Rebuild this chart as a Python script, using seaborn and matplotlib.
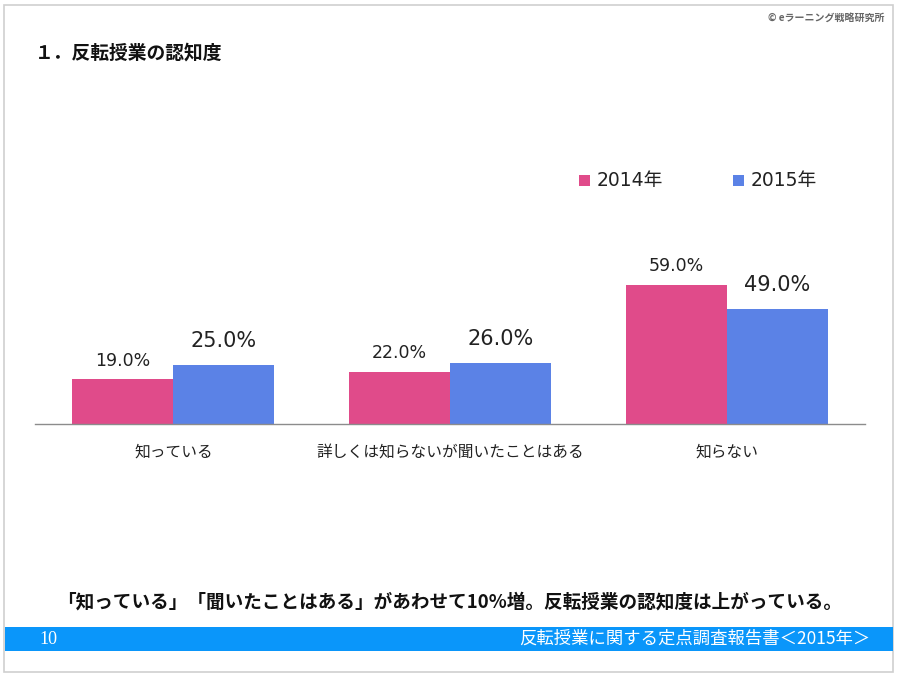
import matplotlib
matplotlib.use("Agg")
import matplotlib.pyplot as plt
from matplotlib.patches import Rectangle
import seaborn as sns
import pandas as pd

categories = ["知っている", "詳しくは知らないが聞いたことはある", "知らない"]
years = ["2014年", "2015年"]
values_2014 = [19.0, 22.0, 59.0]
values_2015 = [25.0, 26.0, 49.0]
colors = ["#E04B8A", "#5B82E6"]

df = pd.DataFrame({
    "category": categories * 2,
    "year": [years[0]] * 3 + [years[1]] * 3,
    "value": values_2014 + values_2015,
})

sns.set_theme(style="white")
plt.rcParams["font.family"] = ["Noto Sans CJK JP", "DejaVu Sans"]
LATIN = ["DejaVu Sans", "Noto Sans CJK JP"]

W, H = 900, 678
fig = plt.figure(figsize=(9, 6.78), dpi=100)
fig.patch.set_facecolor("white")

# slide border
fig.patches.append(Rectangle((4 / W, 1 - 672 / H), 889 / W, 667 / H, transform=fig.transFigure,
                             fill=False, edgecolor="#CFCFCF", linewidth=1.2))
# footer band
fig.patches.append(Rectangle((5 / W, 1 - 651 / H), 888 / W, 24 / H, transform=fig.transFigure,
                             facecolor="#0A96FA", edgecolor="none"))

ymax = 70
ax = fig.add_axes([35 / W, 1 - 424 / H, 830 / W, (ymax * 2.355) / H])
sns.barplot(data=df, x="category", y="value", hue="year", palette=colors,
            width=0.73, ax=ax, saturation=1, legend=False, linewidth=0)
ax.set_ylim(0, ymax)
ax.set_xlim(-0.5, 2.5)
ax.set_xlabel("")
ax.set_ylabel("")
ax.set_yticks([])
for s in ["top", "right", "left"]:
    ax.spines[s].set_visible(False)
ax.spines["bottom"].set_color("#8C8C8C")
ax.spines["bottom"].set_linewidth(1.0)
ax.tick_params(axis="x", length=0, pad=14, labelsize=11.3, labelcolor="#222222")
ax.set_facecolor("none")

conts = ax.containers
ax.bar_label(conts[0], labels=[f"{v:.1f}%" for v in values_2014], padding=7,
             fontsize=12.5, color="#222222", family=LATIN)
ax.bar_label(conts[1], labels=[f"{v:.1f}%" for v in values_2015], padding=10,
             fontsize=15, color="#222222", family=LATIN)

# legend
for i, (lab, c) in enumerate(zip(years, colors)):
    x0 = [579, 733][i]
    fig.patches.append(Rectangle((x0 / W, 1 - 186 / H), 11 / W, 11 / H, transform=fig.transFigure,
                                 facecolor=c, edgecolor="none"))
    fig.text((x0 + 18) / W, 1 - 181 / H, lab, fontsize=13.5, color="#222222", va="center", ha="left",
             family=LATIN)

# texts
fig.text(35 / W, 1 - 53 / H, "１．反転授業の認知度", fontsize=13.5, fontweight="bold",
         color="#111111", va="center", ha="left")
fig.text(884 / W, 1 - 18 / H, "© eラーニング戦略研究所", fontsize=7.2, fontweight="bold",
         color="#666666", va="center", ha="right")
fig.text(450 / W, 1 - 602 / H, "「知っている」「聞いたことはある」があわせて10%増。反転授業の認知度は上がっている。",
         fontsize=13.4, fontweight="bold", color="#111111", va="center", ha="center")
fig.text(39 / W, 1 - 639 / H, "10", fontsize=13, color="white", va="center", ha="left",
         family=["Liberation Serif", "DejaVu Serif"])
fig.text(870 / W, 1 - 639 / H, "反転授業に関する定点調査報告書＜2015年＞", fontsize=12.5,
         color="white", va="center", ha="right")

fig.savefig("out.png", dpi=100, facecolor="white")
